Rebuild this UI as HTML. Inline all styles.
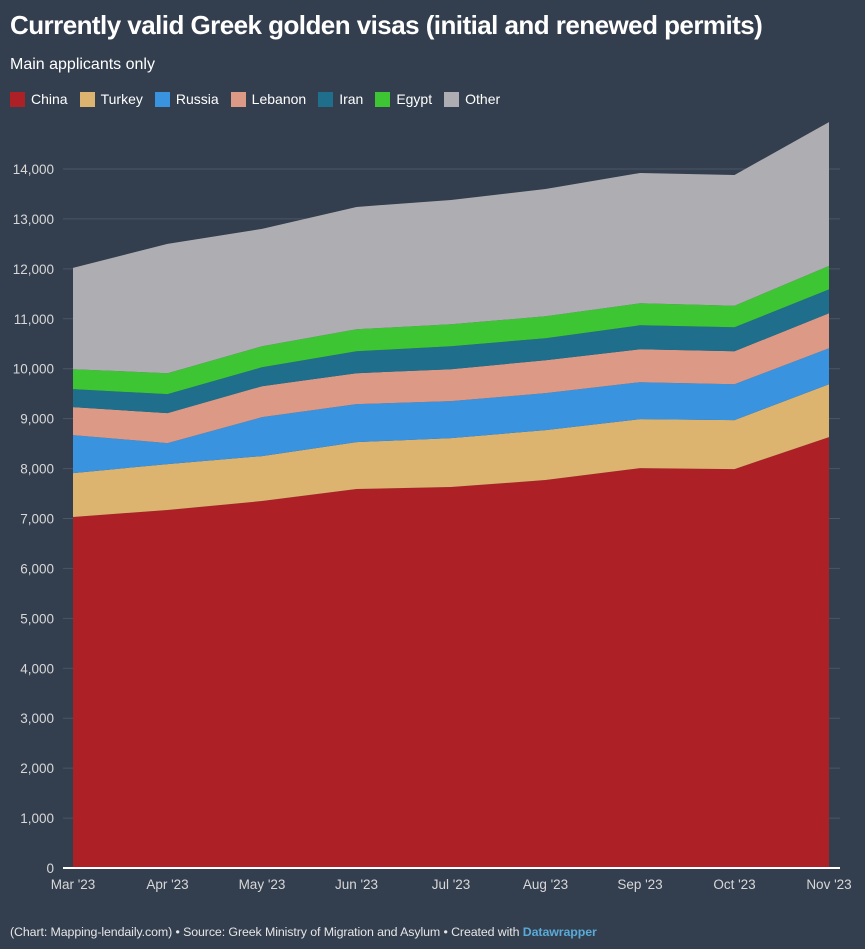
<!DOCTYPE html>
<html><head><meta charset="utf-8"><style>
body{margin:0;background:#333e4e;font-family:"Liberation Sans","Noto Sans CJK SC",sans-serif;color:#fff;}
#wrap{position:relative;width:865px;height:949px;overflow:hidden;background:#333e4e;}
h1{position:absolute;left:10px;top:10px;margin:0;font-size:26px;font-weight:bold;letter-spacing:-0.55px;}
.sub{position:absolute;left:10px;top:56px;font-size:16px;}
.legend{position:absolute;left:10px;top:91px;font-size:14px;display:flex;gap:0;}
.le{display:flex;align-items:center;margin-right:12px;}
.sw{width:15px;height:15px;margin-right:6px;}
.foot{position:absolute;left:10px;top:925px;font-size:12.4px;color:#e6e6e6;letter-spacing:-0.1px;}
.foot b{color:#5aaad8;}
</style></head><body>
<div id="wrap">
<h1>Currently valid Greek golden visas (initial and renewed permits)</h1>
<div class="sub">Main applicants only</div>
<div class="legend" id="legend"></div>
<svg id="chart" width="865" height="949" style="position:absolute;left:0;top:0"></svg>
<div class="foot">(Chart: Mapping-lendaily.com) • Source: Greek Ministry of Migration and Asylum • Created with <b>Datawrapper</b></div>
</div>
<script>
const categories=["Mar '23","Apr '23","May '23","Jun '23","Jul '23","Aug '23","Sep '23","Oct '23","Nov '23"];
const seriesNames=["China","Turkey","Russia","Lebanon","Iran","Egypt","Other"];
const china=[7030,7170,7350,7590,7630,7770,8010,7990,8630];
const turkey=[880,920,900,940,980,1000,980,980,1060];
const russia=[760,420,780,760,740,740,740,720,720];
const lebanon=[560,600,620,620,640,660,660,660,700];
const iran=[360,380,380,440,460,440,480,480,480];
const egypt=[400,420,420,440,440,440,440,430,470];
const other=[2030,2590,2350,2450,2490,2550,2610,2620,2880];
const yTicks=[0,1000,2000,3000,4000,5000,6000,7000,8000,9000,10000,11000,12000,13000,14000];
const colors=["#ad2126","#dcb36f","#3a93df","#dc9a86","#1f6e8c","#3ec534","#aeaeb2"];
const allSeries=[china,turkey,russia,lebanon,iran,egypt,other];
const NS="http://www.w3.org/2000/svg";
const svg=document.getElementById('chart');
const x0=73,x1=829,yb=868,yt=169;
const xs=i=>x0+(x1-x0)*i/(categories.length-1);
const ys=v=>yb-(yb-yt)*v/14000;
function mk(t,a){const e=document.createElementNS(NS,t);for(const k in a)e.setAttribute(k,a[k]);svg.appendChild(e);return e;}
yTicks.forEach(t=>{
 if(t>0){const g=mk('line',{x1:63,x2:840,y1:ys(t),y2:ys(t),stroke:'#4b5666','stroke-width':1});
 
 }
 const l=mk('text',{x:54,y:ys(t)+5,'text-anchor':'end',fill:'#d8d8d8','font-size':13.5,'font-family':'Liberation Sans, sans-serif'});
 l.textContent=t.toLocaleString('en-US');
 
 
});
let base=categories.map(()=>0);
allSeries.forEach((s,si)=>{
 const top=base.map((b,i)=>b+s[i]);
 let d='M'+top.map((v,i)=>xs(i)+','+ys(v)).join('L');
 for(let i=categories.length-1;i>=0;i--)d+='L'+xs(i)+','+ys(base[i]);
 const p=mk('path',{d:d+'Z',fill:colors[si]});
 
 
 base=top;
});
const ax=mk('line',{x1:63,x2:840,y1:yb,y2:yb,stroke:'#fff','stroke-width':2});


categories.forEach((c,i)=>{
 const t=mk('text',{x:xs(i),y:889,'text-anchor':'middle',fill:'#d8d8d8','font-size':13.5,'font-family':'Liberation Sans, sans-serif'});
 t.textContent=c;
 
 
});
const lg=document.getElementById('legend');
seriesNames.forEach((n,i)=>{
 const e=document.createElement('div');e.className='le';
 e.innerHTML='<div class="sw" style="background:'+colors[i]+'"></div>'+n;
 
 
 lg.appendChild(e);
});
</script>
</body></html>
